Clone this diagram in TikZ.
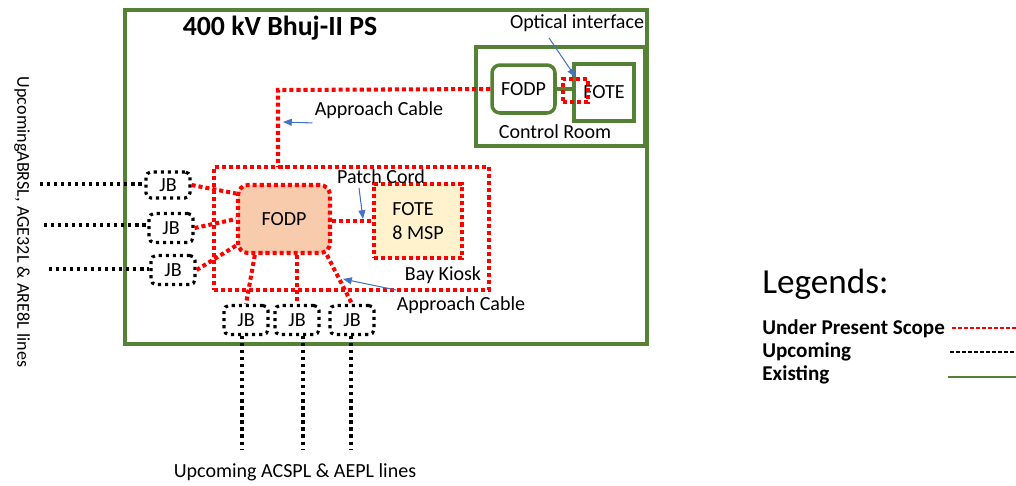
\documentclass[tikz,border=0pt]{standalone}
\usepackage{fontspec}
\setmainfont{Carlito}
\usetikzlibrary{arrows.meta}
\definecolor{existgreen}{RGB}{84,130,53}
\definecolor{fodpfill}{RGB}{248,203,173}
\definecolor{fotefill}{RGB}{255,242,204}
\definecolor{callblue}{RGB}{68,114,196}
\begin{document}
\begin{tikzpicture}[x=0.02cm, y=-0.02cm,
  lbl/.style={font=\fontsize{11.4}{12}\selectfont, inner sep=0pt},
  presentline/.style={draw=red, line width=2.3pt, dash pattern=on 2.3pt off 1.7pt},
  upcomingline/.style={draw=black, line width=1.8pt, dash pattern=on 1.8pt off 2.2pt},
  existline/.style={draw=existgreen, line width=2pt},
  callout/.style={draw=callblue, line width=0.6pt, -{Triangle[length=5pt,width=4pt]}},
  jbbox/.style={upcomingline, rounded corners=0.1cm, lbl, minimum width=0.88cm, minimum height=0.58cm},
  legitem/.style={anchor=west, font=\fontsize{12}{14}\selectfont\bfseries, inner sep=0pt}]
\useasboundingbox (0,0) rectangle (1016,485);

% Substation and control room (existing)
\node (station) at (386,177) [existline, minimum width=10.44cm, minimum height=6.68cm] {};
\node (title) at (280,28) [font=\fontsize{15.8}{17}\selectfont\bfseries, inner sep=0pt] {400 kV Bhuj-II PS};
\node (ctrlroom) at (560.5,96.5) [existline, minimum width=3.38cm, minimum height=1.98cm] {};
\node (crfodp) at (523.5,89) [existline, rounded corners=0.16cm, lbl, minimum width=1.26cm, minimum height=0.96cm] {FODP};
\node (crfote) at (604,92.5) [existline, lbl, minimum width=1.2cm, minimum height=1.14cm] {FOTE};
\draw[existline] (crfodp.east) -- (crfodp.east -| crfote.west);
\node (optical) at (575.5,90.5) [presentline, minimum width=0.5cm, minimum height=0.46cm] {};
\node (crlabel) at (555,132) [lbl] {Control Room};
\node (optlabel) at (577,23) [lbl] {Optical interface};
\draw[callout] (optlabel.south) ++(-28,6) coordinate (optfrom) -- (optical.north);

% Approach cable to control room
\coordinate (bend) at (278,90);
\draw[presentline] (crfodp.west) -- (bend) -- (bend |- 0,167);
\node (applabel1) at (379,110) [lbl] {Approach Cable};
\draw[callout] (applabel1.south west) ++(-2,4) coordinate (appfrom1) -- (283,122);

% Bay kiosk
\node (kiosk) at (351.5,228.5) [presentline, minimum width=5.5cm, minimum height=2.46cm] {};
\node (fodp) at (284,219) [presentline, fill=fodpfill, rounded corners=0.2cm, lbl, minimum width=1.84cm, minimum height=1.36cm] {FODP};
\node (fote) at (418,221) [presentline, fill=fotefill, lbl, align=left, minimum width=1.76cm, minimum height=1.48cm] {FOTE\\[2pt]8 MSP};
\draw[presentline] (fodp.east |- fote.west) -- (fote.west);
\node (patchlabel) at (381,177) [lbl] {Patch Cord};
\draw[callout] (359,188) coordinate (patchfrom) -- (363,219);
\node (kiosklabel) at (443,275) [lbl] {Bay Kiosk};
\node (applabel2) at (461,305) [lbl] {Approach Cable};
\draw[callout] (applabel2.north west) ++(0,-6) coordinate (appfrom2) -- (343,279);

% Junction boxes, left side
\node (jbl1) at (168,185) [jbbox, minimum height=0.52cm] {JB};
\node (jbl2) at (171,228) [jbbox] {JB};
\node (jbl3) at (173,270) [jbbox] {JB};
\draw[presentline] (jbl1.east) -- (fodp.152);
\draw[presentline] (jbl2.east) -- (fodp.west);
\draw[presentline] (jbl3.east) -- (fodp.209);
\coordinate (el1) at (40,184);
\coordinate (el2) at (44,225);
\coordinate (el3) at (49,269);
\draw[upcomingline] (el1) -- (el1 -| jbl1.west);
\draw[upcomingline] (el2) -- (el2 -| jbl2.west);
\draw[upcomingline] (el3) -- (el3 -| jbl3.west);
\node (leftlabel) at (22,222) [lbl, rotate=-90, font=\fontsize{10.3}{12}\selectfont] {UpcomingABRSL, AGE32L \& ARE8L lines};

% Junction boxes, bottom
\node (jbb1) at (246,320) [jbbox] {JB};
\node (jbb2) at (297,320) [jbbox] {JB};
\node (jbb3) at (352,320) [jbbox] {JB};
\draw[presentline] (fodp.231) -- (jbb1.north);
\draw[presentline] (jbb2.north |- fodp.south) -- (jbb2.north);
\draw[presentline] (fodp.320) -- (jbb3.north);
\coordinate (eb1) at (242,450);
\coordinate (eb2) at (303,450);
\coordinate (eb3) at (351,450);
\draw[upcomingline] (eb1 |- jbb1.south) -- (eb1);
\draw[upcomingline] (eb2 |- jbb2.south) -- (eb2);
\draw[upcomingline] (eb3 |- jbb3.south) -- (eb3);
\node (bottomlabel) at (295,472) [lbl] {Upcoming ACSPL \& AEPL lines};

% Legend
\node (legtitle) at (762,284) [anchor=west, inner sep=0pt, font=\fontsize{20}{22}\selectfont] {Legends:};
\node (legred) at (762,329) [legitem] {Under Present Scope};
\node (legblack) at (762,352) [legitem] {Upcoming};
\node (leggreen) at (762,375) [legitem] {Existing};
\draw[red, line width=0.8pt, dash pattern=on 2.2pt off 1.2pt] (952,328) -- (1016,328);
\draw[black, line width=0.8pt, dash pattern=on 2.2pt off 1.2pt] (950,352) -- (1016,352);
\draw[existgreen, line width=1.4pt] (948,377) -- (1016,377);
\end{tikzpicture}
\end{document}
